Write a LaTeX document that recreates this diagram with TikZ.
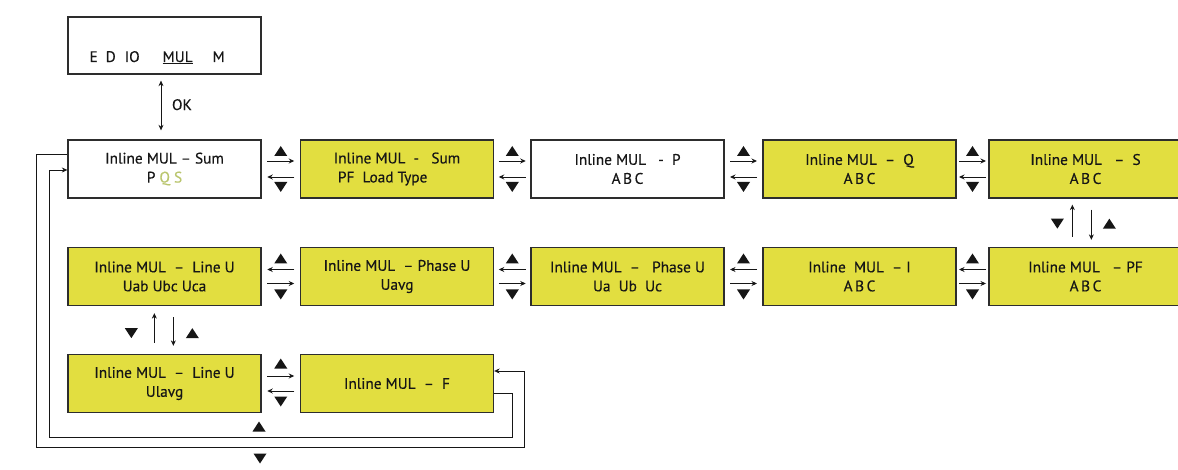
\documentclass[tikz,border=0pt]{standalone}
\usepackage{fontspec}
\setmainfont[FakeBold=0.4]{PT Sans}
\usetikzlibrary{calc,arrows.meta}
\definecolor{lcd}{RGB}{226,222,64}
\definecolor{qs}{RGB}{186,198,110}
\definecolor{ink}{RGB}{22,22,22}
\tikzset{
  screen/.style={draw=ink!90, line width=1.3pt, minimum width=193pt, minimum height=58pt,
    inner sep=0pt, align=center, text=ink},
  lcdbox/.style={screen, fill=lcd},
  conn/.style={line width=0.9pt, draw=ink, -{Stealth[length=5.5pt,width=5pt]}},
  biconn/.style={line width=0.9pt, draw=ink, {Stealth[length=5.5pt,width=5pt]}-{Stealth[length=5.5pt,width=5pt]}},
  triU/.pic={\fill[ink] (-6.5,5) -- (6.5,5) -- (0,-5) -- cycle;},
  triD/.pic={\fill[ink] (-6.5,-5) -- (6.5,-5) -- (0,5) -- cycle;},
}
\begin{document}
\begin{tikzpicture}[x=1pt,y=-1pt,font=\fontsize{15.3}{19}\selectfont]
\useasboundingbox[fill=white] (0,0) rectangle (1178,470);

% top menu
\node[screen, minimum height=57pt] (top) at (164.5,45.5) {};
\node[anchor=base west, text=ink] (menu) at (86,62) {E\hspace{8pt}D\hspace{9pt}IO\hspace{23pt}\underline{MUL}\hspace{20pt}M};

% row 1
\node[screen] (b1) at (164.5,169) {Inline MUL -- Sum\\P {\color{qs}Q S}};
\node[lcdbox, align=left] (b2) at (397,169) {Inline MUL\ \ -\ \ \ Sum\\\ PF\ \ Load Type};
\node[screen] (b3) at (627.5,169) {Inline MUL\ \ \ - \ P\\A\,B\,C};
\node[lcdbox] (b4) at (859.5,169) {Inline MUL\ \ --\ \ Q\\A\,B\,C};
\node[lcdbox] (b5) at (1085.5,169) {Inline MUL\ \ \ --\ \ S\\A\,B\,C};

% row 2
\node[lcdbox] (b6) at (164.5,276.5) {Inline MUL\ \ --\ \ Line U\\Uab Ubc Uca};
\node[lcdbox] (b7) at (397,276.5) {Inline MUL\ \ -- Phase U\\Uavg};
\node[lcdbox] (b8) at (627.5,276.5) {Inline MUL\ \ --\ \ \ Phase U\\Ua\ \ Ub\ \ Uc};
\node[lcdbox] (b9) at (859.5,276.5) {Inline\ \ MUL\ \ -- I\\A\,B\,C};
\node[lcdbox] (b10) at (1085.5,276.5) {Inline MUL\ \ \ -- PF\\A\,B\,C};

% row 3
\node[lcdbox] (b11) at (164.5,383.5) {Inline MUL\ \ --\ \ Line U\\Ulavg};
\node[lcdbox] (b12) at (397,383.5) {Inline MUL\ \ --\ \ F};

% OK link
\draw[biconn] ($(top.south)+(-3.5,6)$) -- ($(b1.north)+(-3.5,-9)$);
\node[anchor=west, text=ink] (ok) at ($(top.south)+(4,30)$) {OK};

% row 1 pairs
\foreach \a/\b in {b1/b2,b2/b3,b3/b4,b4/b5}{
  \draw[conn] ($(\a.east)!0.5!(\b.west)+(-13.5,-8)$) -- ($(\a.east)!0.5!(\b.west)+(13.5,-8)$);
  \draw[conn] ($(\a.east)!0.5!(\b.west)+(13.5,8)$) -- ($(\a.east)!0.5!(\b.west)+(-13.5,8)$);
  \pic at ($(\a.east)!0.5!(\b.west)+(0,-18)$) {triU};
  \pic at ($(\a.east)!0.5!(\b.west)+(0,18)$) {triD};
}
% row 2 pairs
\foreach \a/\b in {b6/b7,b7/b8,b8/b9,b9/b10}{
  \draw[conn] ($(\a.east)!0.5!(\b.west)+(13.5,-7)$) -- ($(\a.east)!0.5!(\b.west)+(-13.5,-7)$);
  \draw[conn] ($(\a.east)!0.5!(\b.west)+(-13.5,7)$) -- ($(\a.east)!0.5!(\b.west)+(13.5,7)$);
  \pic at ($(\a.east)!0.5!(\b.west)+(0,-18)$) {triU};
  \pic at ($(\a.east)!0.5!(\b.west)+(0,18)$) {triD};
}
% row 3 pair
\draw[conn] ($(b11.east)!0.5!(b12.west)+(-13.5,-7.5)$) -- ($(b11.east)!0.5!(b12.west)+(13.5,-7.5)$);
\draw[conn] ($(b11.east)!0.5!(b12.west)+(13.5,7.5)$) -- ($(b11.east)!0.5!(b12.west)+(-13.5,7.5)$);
\pic at ($(b11.east)!0.5!(b12.west)+(0,-20)$) {triU};
\pic at ($(b11.east)!0.5!(b12.west)+(0,18)$) {triD};

% vertical pair S <-> PF
\draw[conn] ($(b10.north west)+(84,-10)$) -- ($(b5.south west)+(84,6)$);
\draw[conn] ($(b5.south west)+(103,11)$) -- ($(b10.north west)+(103,-7)$);
\pic at ($(b5.south west)+(69,25)$) {triD};
\pic at ($(b5.south west)+(121,25)$) {triU};

% vertical pair Line U <-> Line U avg
\draw[conn] ($(b11.north west)+(87,-11)$) -- ($(b6.south west)+(87,7)$);
\draw[conn] ($(b6.south west)+(106,11)$) -- ($(b11.north west)+(106,-8)$);
\pic at ($(b6.south west)+(64,27)$) {triD};
\pic at ($(b6.south west)+(125,27)$) {triU};

% loops
\draw[conn] ($(b1.west)+(0,-15)$) -| (36,447) -| (524,371) -- ($(b12.east)+(0,-12.5)$);
\draw[conn] ($(b12.east)+(0,9.5)$) -| (512,437) -| (49,170) -- ($(b1.west)+(0,1)$);
\pic at (259,426.5) {triU};
\pic at (260,458.5) {triD};
\end{tikzpicture}
\end{document}
